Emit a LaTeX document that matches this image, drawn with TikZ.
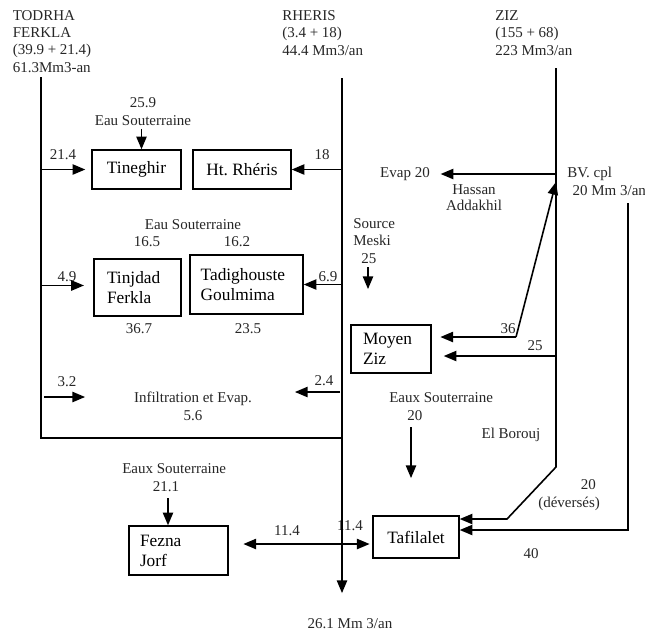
\documentclass[tikz,border=0pt]{standalone}
\usepackage{fontspec}
\setmainfont{Liberation Serif}
\usetikzlibrary{arrows}

\begin{document}
\begin{tikzpicture}[x=0.75pt, y=-0.75pt, >=triangle 45,
    river/.style={line width=1.2pt},
    flow/.style={line width=1.2pt,->},
    box/.style={draw, line width=1.2pt, inner sep=0pt,
      font=\fontsize{13}{15}\selectfont},
    lbl/.style={inner sep=0pt, text=black!85,
      font=\fontsize{11.25}{13}\selectfont}]
    \useasboundingbox (0,0) rectangle (645,633);

    % rivers (multi-line labels sit on their last baseline)
    \node[lbl, anchor=base west, align=left] (todrha) at (12.5,72)
    {TODRHA\\FERKLA\\(39.9 + 21.4)\\61.3Mm3-an};
    \node[lbl, anchor=base west, align=left] (rheris) at (282,55)
    {RHERIS\\(3.4 + 18)\\44.4 Mm3/an};
    \node[lbl, anchor=base west, align=left] (ziz) at (495,55)
    {ZIZ\\(155 + 68)\\223 Mm3/an};

    \coordinate (todrha top) at (41,77);
    \coordinate (todrha bend) at (41,438);
    \coordinate (rheris top) at (342,78);
    \coordinate (rheris out) at (342,593);
    \coordinate (ziz top) at (556,68);
    \coordinate (ziz bend) at (556,467);
    \coordinate (ziz kink) at (507,519);
    \coordinate (bv top) at (628,203);
    \coordinate (bv bend) at (628,530);

    % boxes
    \node[box, minimum width=66.75pt, minimum height=29.25pt] (tineghir)
    at (136.5,169.5) {Tineghir};
    \node[box, minimum width=73.5pt, minimum height=29.25pt] (htrheris)
    at (242,169.5) {Ht.\ Rh\'eris};
    \node[box, minimum width=65.25pt, minimum height=42.75pt, inner xsep=9.75pt,
      text width=45.75pt, align=left] (tinjdad) at (137.5,287.5) {Tinjdad\\Ferkla};
    \node[box, minimum width=84.75pt, minimum height=44.25pt, inner xsep=8pt,
      text width=68.75pt, align=left] (tadig) at (246.5,284.5) {Tadighouste\\Goulmima};
    \node[box, minimum width=60pt, minimum height=36pt, inner xsep=9pt,
      text width=42pt, align=left] (moyen) at (391,349) {Moyen\\Ziz};
    \node[box, minimum width=64.5pt, minimum height=31.5pt] (tafilalet)
    at (416,537) {Tafilalet};
    \node[box, minimum width=74.25pt, minimum height=36.75pt, inner xsep=8.25pt,
      text width=57.75pt, align=left] (fezna) at (178.5,550.5) {Fezna\\Jorf};

    % labels
    \node[lbl, anchor=base, align=center] (gw tineghir) at (143,125) {25.9\\Eau Souterraine};
    \node[lbl, anchor=base] (q214) at (63,159) {21.4};
    \node[lbl, anchor=base] (q18) at (322,159) {18};
    \node[lbl, anchor=base] (gw mid) at (193,229) {Eau Souterraine};
    \node[lbl, anchor=base] (q165) at (147,246) {16.5};
    \node[lbl, anchor=base] (q162) at (237,246) {16.2};
    \node[lbl, anchor=base] (q49) at (67,281) {4.9};
    \node[lbl, anchor=base] (q69) at (328,281) {6.9};
    \node[lbl, anchor=base] (q367) at (139,333) {36.7};
    \node[lbl, anchor=base] (q235) at (248,333) {23.5};
    \node[lbl, anchor=base] (q32) at (67,386) {3.2};
    \node[lbl, anchor=base] (q24) at (324,385) {2.4};
    \node[lbl, anchor=base, align=center] (infil) at (193,420) {Infiltration et Evap.\\5.6};
    \node[lbl, anchor=base west, align=left] (meski) at (353,263)
    {Source\\Meski\\\hspace*{6pt}25};
    \node[lbl, anchor=base] (evap) at (405,177) {Evap 20};
    \node[lbl, anchor=base, align=center, font=\fontsize{11.25}{11.5}\selectfont]
    (hassan) at (474,210) {Hassan\\Addakhil};
    \node[lbl, anchor=base west, align=left] (bvcpl) at (567,195)
    {BV. cpl\\\hspace*{4pt}20 Mm 3/an};
    \node[lbl, anchor=base] (q36) at (508,333) {36};
    \node[lbl, anchor=base] (q25) at (535,350) {25};
    \node[lbl, anchor=base west, align=left] (gw ziz) at (389,420)
    {Eaux Souterraine\\\hspace*{13.5pt}20};
    \node[lbl, anchor=base] (borouj) at (511,438) {El Borouj};
    \node[lbl, anchor=base west, align=left] (gw fezna) at (122,491)
    {Eaux Souterraine\\\hspace*{23pt}21.1};
    \node[lbl, anchor=base] (q114a) at (287,535) {11.4};
    \node[lbl, anchor=base] (q114b) at (350,530) {11.4};
    \node[lbl, anchor=base west, align=left] (deverses) at (538,507)
    {\hspace*{32pt}20\\(d\'evers\'es)};
    \node[lbl, anchor=base] (q40) at (531,558) {40};
    \node[lbl, anchor=base] (exit) at (350,628) {26.1 Mm 3/an};

    % main courses
    \draw[river] (todrha top) -- (todrha bend) -- (rheris top |- todrha bend);
    \draw[flow] (rheris top) -- (rheris out);
    \draw[flow] (ziz top) -- (ziz bend) -- (ziz kink) -- (tafilalet.east |- ziz kink);
    \draw[flow] (bv top) -- (bv bend) -- (tafilalet.east |- bv bend);

    % withdrawals
    \coordinate (evap tap) at (556,174);
    \coordinate (bv in) at (556,182);
    \coordinate (moyen tap) at (516,337);
    \coordinate (ziz tap) at (556,356);
    \draw[flow, shorten >=8pt] (evap tap) -- (evap.east |- evap tap);
    \draw[flow] (moyen tap) -- (bv in);
    \draw[flow, shorten >=6.5pt] (moyen tap) -- (moyen.east |- moyen tap);
    \draw[flow, shorten >=9pt] (ziz tap) -- (moyen.east |- ziz tap);

    \draw[flow, shorten >=4.5pt] (todrha top |- tineghir.west) -- (tineghir.west);
    \draw[flow] (rheris top |- htrheris.east) -- (htrheris.east);
    \draw[flow, shorten >=7pt] (todrha top |- q49.south) ++(0,4) coordinate (tap49)
      -- (tinjdad.west |- tap49);
    \draw[flow] (rheris top |- tadig.east) -- (tadig.east);
    \coordinate (in32) at (44,397);
    \coordinate (out32) at (85,397);
    \draw[flow] (in32) -- (out32);
    \coordinate (in24) at (340,392);
    \coordinate (out24) at (295,392);
    \draw[flow] (in24) -- (out24);

    % ground water
    \draw[flow, shorten <=2.5pt] (gw tineghir.south -| tineghir.north) ++(5,0)
      coordinate (gw1) -- (gw1 |- tineghir.north);
    \coordinate (meski a) at (368,267);
    \coordinate (meski b) at (368,289);
    \draw[flow] (meski a) -- (meski b);
    \coordinate (gw ziz a) at (411,427);
    \coordinate (gw ziz b) at (411,478);
    \draw[flow] (gw ziz a) -- (gw ziz b);
    \coordinate (gw fezna a) at (168,498);
    \draw[flow] (gw fezna a) -- (gw fezna a |- fezna.north);

    % exchange
    \draw[line width=1.2pt, <->, shorten <=11pt, shorten >=2pt]
      (fezna.east |- 0,544) -- (tafilalet.west |- 0,544);
  \end{tikzpicture}
\end{document}
